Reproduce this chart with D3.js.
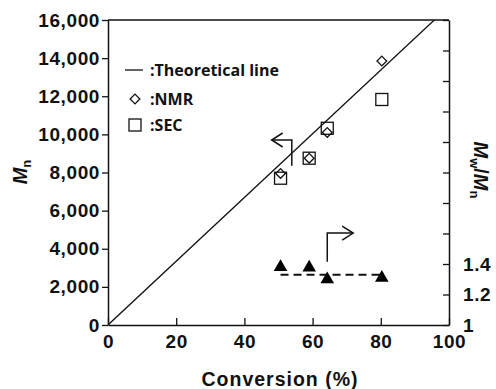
<!DOCTYPE html>
<html>
<head>
<meta charset="utf-8">
<script src="https://cdn.jsdelivr.net/npm/d3@7"></script>
<style>
  body { margin: 0; background: #fff; }
  svg { display: block; }
  .tick text { font-family: "Liberation Sans", Arial, sans-serif; font-weight: bold; font-size: 19px; letter-spacing: 0.6px; fill: #111; }
</style>
</head>
<body>
<script>
// conversion (%) for each sample
const conversion = [50.6, 59.0, 64.3, 80.3];
const mnNMR = [7950, 8750, 10100, 13850];
const mnSEC = [7700, 8750, 10320, 11830];
const pdi = [1.38, 1.377, 1.30, 1.31];
// theoretical Mn line
const theoX = [0, 100];
const theoY = [0, 16720];
// average dispersity (dashed)
const pdiLineX = [50.6, 80.3];
const pdiLineY = [1.33, 1.33];
const xTicks = [0, 20, 40, 60, 80, 100];
const yTicks = [0, 2000, 4000, 6000, 8000, 10000, 12000, 14000, 16000];
const y2Ticks = [1, 1.2, 1.4, 1.6, 1.8, 2, 2.2, 2.4, 2.6, 2.8, 3];
const y2Labels = [1, 1.2, 1.4];
// arrows: [x, y] in data units
const arrowLeft = [[53.9, 8357], [53.9, 9705], [48.0, 9705]];
const arrowRight = [[64.3, 1.414], [64.3, 1.603], [71.9, 1.603]];

const W = 496, H = 389;
const margin = { top: 20, right: 47, bottom: 64, left: 108 };
const width = W - margin.left - margin.right;
const height = H - margin.top - margin.bottom;

const svg = d3.select('body').append('svg')
    .attr('width', W)
    .attr('height', H);

svg.append('defs').append('clipPath')
    .attr('id', 'clip')
    .append('rect')
    .attr('width', width)
    .attr('height', height);

const g = svg.append('g')
    .attr('transform', `translate(${margin.left}, ${margin.top})`);

const x = d3.scaleLinear().domain([0, 100]).range([0, width]);
const y = d3.scaleLinear().domain([0, 16000]).range([height, 0]);
const y2 = d3.scaleLinear().domain([1, 3]).range([height, 0]);

// frame top
g.append('line')
    .attr('x1', 0).attr('x2', width)
    .attr('y1', 0).attr('y2', 0)
    .attr('stroke', '#111').attr('stroke-width', 1.5);

const xAxis = d3.axisBottom(x).tickValues(xTicks)
    .tickSizeInner(-7).tickSizeOuter(0).tickPadding(10);
const yAxis = d3.axisLeft(y).tickValues(yTicks)
    .tickSizeInner(6).tickSizeOuter(0).tickPadding(2)
    .tickFormat(d3.format(','));
const y2Axis = d3.axisRight(y2).tickValues(y2Ticks)
    .tickSizeInner(-6).tickSizeOuter(0).tickPadding(14)
    .tickFormat(d => y2Labels.includes(d) ? d3.format('~g')(d) : '');

const styleAxis = sel => {
    sel.select('.domain').attr('stroke', '#111').attr('stroke-width', 1.5);
    sel.selectAll('.tick line').attr('stroke', '#111').attr('stroke-width', 1.3);
};

g.append('g').attr('transform', `translate(0, ${height})`).call(xAxis).call(styleAxis);
g.append('g').call(yAxis).call(styleAxis);
g.append('g').attr('transform', `translate(${width}, 0)`).call(y2Axis).call(styleAxis);

// theoretical line
const theo = theoX.map((d, i) => [d, theoY[i]]);
g.append('path')
    .datum(theo)
    .attr('clip-path', 'url(#clip)')
    .attr('fill', 'none')
    .attr('stroke', '#111')
    .attr('stroke-width', 1.3)
    .attr('d', d3.line().x(d => x(d[0])).y(d => y(d[1])));

// dashed dispersity line
g.append('path')
    .datum(pdiLineX.map((d, i) => [d, pdiLineY[i]]))
    .attr('fill', 'none')
    .attr('stroke', '#111')
    .attr('stroke-width', 2)
    .attr('stroke-dasharray', '8,5')
    .attr('d', d3.line().x(d => x(d[0])).y(d => y2(d[1])));

// SEC squares
g.selectAll('.sec').data(conversion).join('rect')
    .attr('x', (d, i) => x(d) - 6)
    .attr('y', (d, i) => y(mnSEC[i]) - 6)
    .attr('width', 12).attr('height', 12)
    .attr('fill', 'none').attr('stroke', '#111').attr('stroke-width', 1.3);

// NMR diamonds
const diamond = d3.symbol().type(d3.symbolDiamond2).size(60);
g.selectAll('.nmr').data(conversion).join('path')
    .attr('transform', (d, i) => `translate(${x(d)}, ${y(mnNMR[i])})`)
    .attr('d', diamond)
    .attr('fill', 'none').attr('stroke', '#111').attr('stroke-width', 1.3);

// Mw/Mn triangles
const tri = d3.symbol().type(d3.symbolTriangle).size(80);
g.selectAll('.pdi').data(conversion).join('path')
    .attr('transform', (d, i) => `translate(${x(d)}, ${y2(pdi[i])})`)
    .attr('d', tri)
    .attr('fill', '#000');

// arrows
const drawArrow = (pts, ys, dir) => {
    const p = pts.map(d => [x(d[0]), ys(d[1])]);
    g.append('path')
        .attr('d', d3.line()(p))
        .attr('fill', 'none').attr('stroke', '#111').attr('stroke-width', 1.5);
    const [tx, ty] = p[p.length - 1];
    const back = 11 * dir;
    g.append('path')
        .attr('d', d3.line()([[tx - back, ty - 7], [tx, ty], [tx - back, ty + 7]]))
        .attr('fill', 'none').attr('stroke', '#111').attr('stroke-width', 1.5);
};
drawArrow(arrowLeft, y, -1);
drawArrow(arrowRight, y2, 1);

// legend
const legend = svg.append('g')
    .attr('font-family', '"Open Sans", "Noto Sans", sans-serif')
    .attr('font-weight', 'bold')
    .attr('font-size', 16)
    .attr('fill', '#111');
legend.append('line')
    .attr('x1', 125).attr('x2', 143).attr('y1', 70).attr('y2', 70)
    .attr('stroke', '#111').attr('stroke-width', 1.3);
legend.append('text').attr('x', 150).attr('y', 70).attr('dy', '0.35em').text(':Theoretical line');
legend.append('path')
    .attr('transform', 'translate(135, 99)')
    .attr('d', diamond)
    .attr('fill', 'none').attr('stroke', '#111').attr('stroke-width', 1.3);
legend.append('text').attr('x', 150).attr('y', 99).attr('dy', '0.35em').text(':NMR');
legend.append('rect')
    .attr('x', 129).attr('y', 119).attr('width', 12).attr('height', 12)
    .attr('fill', 'none').attr('stroke', '#111').attr('stroke-width', 1.3);
legend.append('text').attr('x', 150).attr('y', 125).attr('dy', '0.35em').text(':SEC');

// axis titles
svg.append('text')
    .attr('x', 280).attr('y', 379)
    .attr('dy', '0.35em')
    .attr('text-anchor', 'middle')
    .attr('font-family', '"Liberation Sans", Arial, sans-serif')
    .attr('font-weight', 'bold').attr('font-size', 19.5)
    .attr('letter-spacing', 1)
    .attr('fill', '#111')
    .text('Conversion (%)');

const mn = svg.append('text')
    .attr('transform', 'translate(27, 172) rotate(-90)')
    .attr('text-anchor', 'middle')
    .attr('font-family', '"Liberation Sans", Arial, sans-serif')
    .attr('font-weight', 'bold').attr('font-size', 20)
    .attr('fill', '#111');
mn.append('tspan').attr('font-style', 'italic').text('M');
mn.append('tspan').attr('font-size', 13).attr('dy', 4).text('n');

const mw = svg.append('text')
    .attr('transform', 'translate(474, 170) rotate(90)')
    .attr('text-anchor', 'middle')
    .attr('font-family', '"Liberation Sans", Arial, sans-serif')
    .attr('font-weight', 'bold').attr('font-size', 20)
    .attr('fill', '#111');
mw.append('tspan').attr('font-style', 'italic').text('M');
mw.append('tspan').attr('font-size', 13).attr('dy', 4).text('w');
mw.append('tspan').attr('dy', -4).text('/');
mw.append('tspan').attr('font-style', 'italic').text('M');
mw.append('tspan').attr('font-size', 13).attr('dy', 4).text('n');
</script>
</body>
</html>
